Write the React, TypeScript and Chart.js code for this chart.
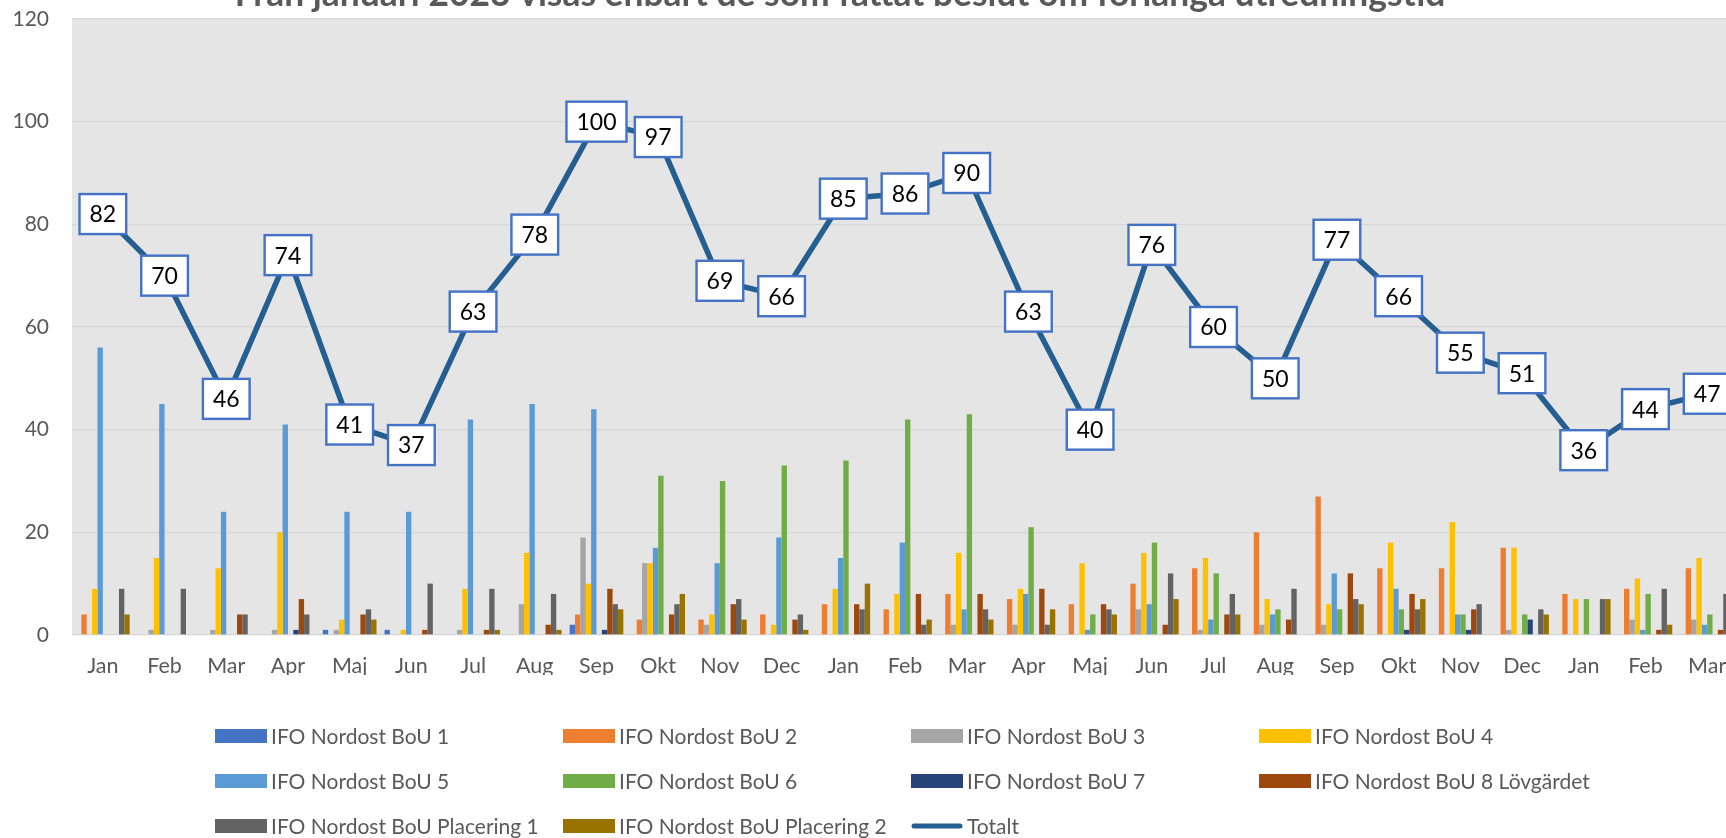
import React, { useEffect, useRef } from "react";
import { Chart, registerables } from "chart.js";
Chart.register(...registerables);

const chartTitle = "Från januari 2023 visas enbart de som fattat beslut om förlänga utredningstid";
const months = ["Jan","Feb","Mar","Apr","Maj","Jun","Jul","Aug","Sep","Okt","Nov","Dec","Jan","Feb","Mar","Apr","Maj","Jun","Jul","Aug","Sep","Okt","Nov","Dec","Jan","Feb","Mar"];
const yTicks = [0, 20, 40, 60, 80, 100, 120];

const bou1 = [0,0,0,0,1,1,0,0,2,0,0,0,0,0,0,0,0,0,0,0,0,0,0,0,0,0,0];
const bou2 = [4,0,0,0,0,0,0,0,4,3,3,4,6,5,8,7,6,10,13,20,27,13,13,17,8,9,13];
const bou3 = [0,1,1,1,1,0,1,6,19,14,2,0,0,0,2,2,0,5,1,2,2,0,0,1,0,3,3];
const bou4 = [9,15,13,20,3,1,9,16,10,14,4,2,9,8,16,9,14,16,15,7,6,18,22,17,7,11,15];
const bou5 = [56,45,24,41,24,24,42,45,44,17,14,19,15,18,5,8,1,6,3,4,12,9,4,0,0,1,2];
const bou6 = [0,0,0,0,0,0,0,0,0,31,30,33,34,42,43,21,4,18,12,5,5,5,4,4,7,8,4];
const bou7 = [0,0,0,1,0,0,0,0,1,0,0,0,0,0,0,0,0,0,0,0,0,1,1,3,0,0,0];
const bou8 = [0,0,4,7,4,1,1,2,9,4,6,3,6,8,8,9,6,2,4,3,12,8,5,0,0,1,1];
const plac1 = [9,9,4,4,5,10,9,8,6,6,7,4,5,2,5,2,5,12,8,9,7,5,6,5,7,9,8];
const plac2 = [4,0,0,0,3,0,1,1,5,8,3,1,10,3,3,5,4,7,4,0,6,7,0,4,7,2,1];
const totalt = [82,70,46,74,41,37,63,78,100,97,69,66,85,86,90,63,40,76,60,50,77,66,55,51,36,44,47];

const barSeries = [
  { label: "IFO Nordost BoU 1", data: bou1, color: "#4472C4" },
  { label: "IFO Nordost BoU 2", data: bou2, color: "#ED7D31" },
  { label: "IFO Nordost BoU 3", data: bou3, color: "#A5A5A5" },
  { label: "IFO Nordost BoU 4", data: bou4, color: "#FFC000" },
  { label: "IFO Nordost BoU 5", data: bou5, color: "#5B9BD5" },
  { label: "IFO Nordost BoU 6", data: bou6, color: "#70AD47" },
  { label: "IFO Nordost BoU 7", data: bou7, color: "#264478" },
  { label: "IFO Nordost BoU 8 Lövgärdet", data: bou8, color: "#9E480E" },
  { label: "IFO Nordost BoU Placering 1", data: plac1, color: "#636363" },
  { label: "IFO Nordost BoU Placering 2", data: plac2, color: "#997300" },
];
const lineColor = "#255E91";
const FONT = "Lato, 'Open Sans', sans-serif";

const bgPlugin = {
  id: "plotBg",
  beforeDraw(chart: any) {
    const { ctx, chartArea: a } = chart;
    ctx.save();
    ctx.fillStyle = "#E5E5E5";
    ctx.fillRect(a.left, a.top, a.right - a.left, a.bottom - a.top);
    ctx.restore();
  },
};

const labelPlugin = {
  id: "boxLabels",
  afterDatasetsDraw(chart: any) {
    const { ctx } = chart;
    const idx = chart.data.datasets.length - 1;
    const meta = chart.getDatasetMeta(idx);
    const data = chart.data.datasets[idx].data;
    ctx.save();
    ctx.font = `23px ${FONT}`;
    ctx.textAlign = "center";
    ctx.textBaseline = "middle";
    meta.data.forEach((pt: any, i: number) => {
      const txt = String(data[i]);
      const w = ctx.measureText(txt).width + 20;
      const h = 40;
      ctx.fillStyle = "#FFFFFF";
      ctx.fillRect(pt.x - w / 2, pt.y - h / 2, w, h);
      ctx.strokeStyle = "#4472C4";
      ctx.lineWidth = 2.4;
      ctx.strokeRect(pt.x - w / 2, pt.y - h / 2, w, h);
      ctx.fillStyle = "#000000";
      ctx.fillText(txt, pt.x, pt.y + 1);
    });
    ctx.restore();
  },
};

const titleLegendPlugin = {
  id: "titleLegend",
  afterDraw(chart: any) {
    const { ctx } = chart;
    ctx.save();
    // title
    ctx.font = `bold 100px ${FONT}`;
    const w100 = ctx.measureText(chartTitle).width;
    const size = (1211 / w100) * 100;
    ctx.font = `bold ${size}px ${FONT}`;
    ctx.fillStyle = "#595959";
    ctx.textAlign = "center";
    ctx.textBaseline = "alphabetic";
    ctx.fillText(chartTitle, 840, 5.5);
    // legend
    ctx.font = `21px ${FONT}`;
    ctx.textAlign = "left";
    ctx.textBaseline = "middle";
    const ds = chart.data.datasets;
    ds.forEach((d: any, i: number) => {
      const col = i % 4;
      const row = Math.floor(i / 4);
      const x = 215 + col * 348;
      const y = 736 + row * 45;
      if (d.type === "line") {
        ctx.strokeStyle = d.borderColor;
        ctx.lineWidth = 5;
        ctx.lineCap = "round";
        ctx.beginPath();
        ctx.moveTo(x + 3, y);
        ctx.lineTo(x + 49, y);
        ctx.stroke();
      } else {
        ctx.fillStyle = d.backgroundColor;
        ctx.fillRect(x, y - 7, 52, 14);
      }
      ctx.fillStyle = "#595959";
      ctx.fillText(d.label, x + 56, y + 1);
    });
    ctx.restore();
  },
};

export default function App() {
  const ref = useRef<HTMLCanvasElement>(null);
  useEffect(() => {
    if (!ref.current) return;
    const datasets: any[] = barSeries.map((s) => ({
      type: "bar",
      label: s.label,
      data: s.data,
      backgroundColor: s.color,
      borderWidth: 0,
      order: 1,
      categoryPercentage: 0.87,
      barPercentage: 1,
    }));
    datasets.push({
      type: "line",
      label: "Totalt",
      data: totalt,
      borderColor: lineColor,
      backgroundColor: lineColor,
      borderWidth: 5.5,
      pointRadius: 0,
      tension: 0,
      borderJoinStyle: "round",
      borderCapStyle: "round",
      order: 0,
    });
    const chart = new Chart(ref.current, {
      type: "bar",
      data: { labels: months, datasets },
      options: {
        animation: false,
        responsive: true,
        maintainAspectRatio: false,
        layout: { padding: { left: 0, right: 22, top: 19, bottom: 163 } },
        plugins: {
          legend: { display: false },
          title: { display: false },
          tooltip: { enabled: false },
        },
        scales: {
          x: {
            grid: { display: false },
            border: { display: false },
            ticks: { color: "#595959", font: { family: FONT, size: 21.5 }, padding: 10, maxRotation: 0, autoSkip: false },
            afterFit: (s: any) => { s.height = 40; s.paddingLeft = 0; s.paddingRight = 0; },
          },
          y: {
            min: 0,
            max: 120,
            afterBuildTicks: (s: any) => { s.ticks = yTicks.map((v) => ({ value: v })); },
            grid: { color: "#D6D6D6", lineWidth: 1.3, drawTicks: false },
            border: { display: false },
            ticks: { color: "#595959", font: { family: FONT, size: 21 }, padding: 23 },
            afterFit: (s: any) => { s.width = 72; s.paddingTop = 0; s.paddingBottom = 0; },
          },
        },
      } as any,
      plugins: [bgPlugin, labelPlugin, titleLegendPlugin],
    });
    return () => chart.destroy();
  }, []);
  return (
    <div style={{ position: "fixed", left: 0, top: 0, width: "100vw", height: "100vh", overflow: "hidden", background: "#FFFFFF" }}>
      <div style={{ position: "absolute", left: 0, top: 0, width: 1760, height: 838 }}>
        <canvas ref={ref} />
      </div>
    </div>
  );
}
